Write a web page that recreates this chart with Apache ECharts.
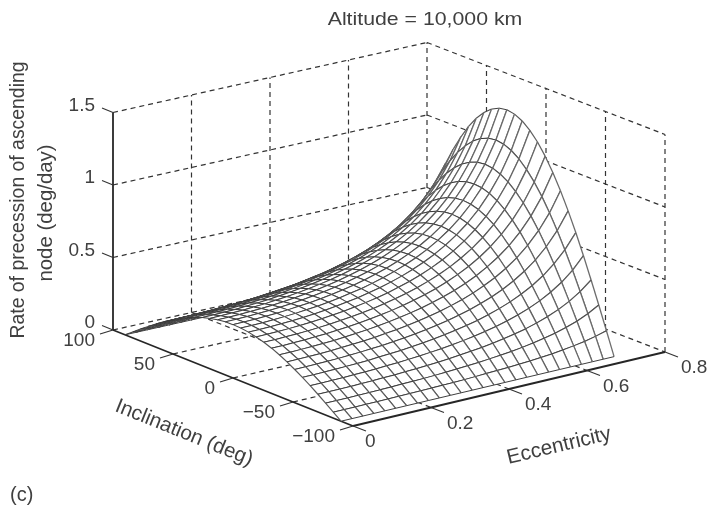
<!DOCTYPE html>
<html><head><meta charset="utf-8">
<style>html,body{margin:0;padding:0;background:#fff}#c{width:709px;height:510px}</style>
<script src="https://cdn.jsdelivr.net/npm/echarts@6/dist/echarts.min.js"></script>
</head><body><div id="c"></div>
<script>
// ---- chart text ----
const titleText = 'Altitude = 10,000 km';
const zTitleLine1 = 'Rate of precession of ascending';
const zTitleLine2 = 'node (deg/day)';
const iTitle = 'Inclination (deg)';
const eTitle = 'Eccentricity';
const panelTag = '(c)';
// ---- axis ticks ----
const eTicks = [0, 0.2, 0.4, 0.6, 0.8];
const eTickLabels = ['0', '0.2', '0.4', '0.6', '0.8'];
const iTicks = [100, 50, 0, -50, -100];
const iTickLabels = ['100', '50', '0', '\u221250', '\u2212100'];
const zTicks = [0, 0.5, 1, 1.5];
const zTickLabels = ['0', '0.5', '1', '1.5'];
// ---- surface grid: eccentricity columns, inclination rows ----
const eccentricity = [0,.028,.056,.084,.112,.14,.168,.196,.224,.252,.28,.308,.336,.364,.392,.42,.448,.476,.504,.532,.56,.588,.616,.644,.672,.7];
const inclination = [90,83.57,77.14,70.71,64.29,57.86,51.43,45,38.57,32.14,25.71,19.29,12.86,6.43,0,-6.43,-12.86,-19.29,-25.71,-32.14,-38.57,-45,-51.43,-57.86,-64.29,-70.71,-77.14,-83.57,-90];
// rate (deg/day) read along each inclination row; the surface is symmetric in inclination
const rate90 = [0,0,0,0,0,0,0,0,0,0,0,0,0,0,0,0,0,0,0,0,0,0,0,0,0,0];
const rate84 = [.041,.041,.041,.042,.042,.043,.044,.045,.046,.047,.049,.050,.052,.055,.058,.061,.065,.069,.074,.080,.087,.096,.107,.120,.137,.158];
const rate77 = [.082,.082,.082,.083,.084,.085,.087,.089,.091,.093,.096,.100,.104,.109,.114,.121,.128,.137,.147,.159,.174,.191,.213,.239,.272,.315];
const rate71 = [.122,.122,.122,.123,.125,.126,.129,.131,.135,.139,.143,.148,.154,.162,.170,.179,.190,.203,.218,.236,.258,.284,.316,.355,.404,.467];
const rate64 = [.160,.160,.161,.162,.164,.166,.169,.173,.177,.182,.188,.195,.203,.212,.223,.235,.250,.267,.287,.311,.339,.373,.415,.466,.531,.614];
const rate58 = [.196,.196,.197,.199,.201,.204,.207,.212,.217,.223,.231,.239,.249,.260,.273,.289,.306,.327,.352,.381,.416,.457,.508,.572,.651,.753];
const rate51 = [.229,.230,.231,.233,.235,.239,.243,.248,.254,.262,.270,.280,.292,.305,.320,.338,.359,.384,.412,.446,.487,.536,.596,.670,.763,.882];
const rate45 = [.260,.261,.262,.264,.267,.271,.276,.281,.288,.297,.306,.318,.331,.346,.363,.384,.407,.435,.468,.506,.552,.608,.676,.760,.865,1.000];
const rate39 = [.288,.288,.290,.292,.295,.299,.305,.311,.319,.328,.339,.351,.366,.382,.402,.424,.450,.481,.517,.560,.611,.672,.747,.840,.957,1.106];
const rate32 = [.312,.312,.314,.316,.320,.324,.330,.337,.345,.355,.367,.380,.396,.414,.435,.459,.488,.521,.560,.606,.661,.728,.809,.910,1.036,1.198];
const rate26 = [.332,.332,.334,.336,.340,.345,.351,.359,.368,.378,.390,.405,.421,.441,.463,.489,.519,.554,.596,.645,.704,.775,.861,.968,1.102,1.275];
const rate19 = [.347,.348,.350,.352,.356,.361,.368,.376,.385,.396,.409,.424,.441,.462,.485,.512,.544,.581,.624,.676,.737,.811,.902,1.014,1.155,1.335];
const rate13 = [.359,.359,.361,.364,.368,.373,.380,.388,.398,.409,.422,.438,.456,.477,.501,.529,.562,.600,.645,.698,.761,.838,.932,1.047,1.193,1.379];
const rate06 = [.366,.366,.368,.371,.375,.380,.387,.395,.405,.417,.431,.446,.465,.486,.511,.539,.572,.611,.657,.711,.776,.854,.950,1.068,1.216,1.406];
const rate00 = [.368,.369,.370,.373,.377,.383,.390,.398,.408,.420,.433,.449,.468,.489,.514,.543,.576,.615,.661,.716,.781,.860,.956,1.074,1.224,1.415];
const surface = [rate90,rate84,rate77,rate71,rate64,rate58,rate51,rate45,rate39,rate32,rate26,rate19,rate13,rate06,rate00,
                 rate06,rate13,rate19,rate26,rate32,rate39,rate45,rate51,rate58,rate64,rate71,rate77,rate84,rate90];

// ---- oblique 3D view, fixed by the floor corners of the plot box ----
const cornerA = [113,330], cornerB = [353,426], cornerC = [665,352], cornerD = [427,260];
const zScale = 145;
function project(e, inc, z) {
  const u = e / 0.8, v = (100 - inc) / 200;
  const x = (1-u)*(1-v)*cornerA[0] + (1-u)*v*cornerB[0] + u*v*cornerC[0] + u*(1-v)*cornerD[0];
  const y = (1-u)*(1-v)*cornerA[1] + (1-u)*v*cornerB[1] + u*v*cornerC[1] + u*(1-v)*cornerD[1];
  return [x, y - z*zScale];
}
const zTop = zTicks[zTicks.length-1];
function seg(a, b) { return [a[0], a[1], b[0], b[1]]; }

// dashed box grid
const gridSegs = [];
eTicks.forEach(e => {
  if (e > 0 && e < 0.8) {
    gridSegs.push(seg(project(e,100,0), project(e,100,zTop)));
    gridSegs.push(seg(project(e,100,0), project(e,-100,0)));
  }
});
iTicks.forEach(i => {
  gridSegs.push(seg(project(0.8,i,0), project(0.8,i,zTop)));
  if (i < 100 && i > -100) gridSegs.push(seg(project(0,i,0), project(0.8,i,0)));
});
zTicks.forEach(z => {
  gridSegs.push(seg(project(0,100,z), project(0.8,100,z)));
  gridSegs.push(seg(project(0.8,100,z), project(0.8,-100,z)));
});
// solid axes and ticks
const axisSegs = [
  seg(project(0,100,0), project(0,100,zTop)),
  seg(project(0,100,0), project(0,-100,0)),
  seg(project(0,-100,0), project(0.8,-100,0))
];
const tickSegs = [];
zTicks.forEach(z => { const p = project(0,100,z); tickSegs.push([p[0],p[1],p[0]-11,p[1]-4.5]); });
iTicks.forEach(i => { const p = project(0,i,0); tickSegs.push([p[0],p[1],p[0]-13,p[1]+4]); });
eTicks.forEach(e => { const p = project(e,-100,0); tickSegs.push([p[0],p[1],p[0]+13,p[1]+5]); });

// mesh cells back to front
const cells = [];
for (let r = 0; r < inclination.length-1; r++)
  for (let c = eccentricity.length-2; c >= 0; c--) cells.push([r, c]);

function lineSeries(name, segs, style) {
  return {
    type:'custom', name, coordinateSystem:'cartesian2d', silent:true, clip:false,
    data:segs, encode:{x:[0,2],y:[1,3]},
    renderItem:(p, api) => {
      const a = api.coord([api.value(0),api.value(1)]), b = api.coord([api.value(2),api.value(3)]);
      return {type:'line', shape:{x1:a[0],y1:a[1],x2:b[0],y2:b[1]}, style};
    }
  };
}
// steep mesh strands print lighter and broader than flat ones in the scan
function meshEdge(a, b) {
  const dx = Math.abs(a[0]-b[0]), dy = Math.abs(a[1]-b[1]);
  const t = dy / (dx + dy + 1e-6);
  const g = Math.round(44 + t*84);
  return {type:'line', shape:{x1:a[0],y1:a[1],x2:b[0],y2:b[1]},
    style:{stroke:'rgb('+g+','+g+','+g+')', lineWidth:0.9 + 0.5*t}};
}
const font = s => s + 'px "Liberation Sans", Arial, sans-serif';
const ink = '#404040';
function txt(x, y, text, size, align, rot, sx) {
  return {type:'text', x, y, rotation:rot||0, scaleX:sx||1, silent:true,
    style:{text, font:font(size), fill:ink, align:align||'center', verticalAlign:'middle'}};
}
const labels = [];
zTicks.forEach((z,k) => { const p = project(0,100,z); labels.push(txt(95, p[1]-7, zTickLabels[k], 19, 'right')); });
iTicks.forEach((v,k) => { const p = project(0,v,0); labels.push(txt(p[0]-18, p[1]+11, iTickLabels[k], 19, 'right')); });
eTicks.forEach((v,k) => { const p = project(v,-100,0); labels.push(txt(p[0]+(v===0?12:16), p[1]+16, eTickLabels[k], 19, 'left')); });
labels.push(txt(425, 20, titleText, 19, 'center', 0, 1.12));
labels.push(txt(19, 200, zTitleLine1, 19.4, 'center', Math.PI/2));
labels.push(txt(46, 213, zTitleLine2, 20.4, 'center', Math.PI/2));
labels.push(txt(184, 433, iTitle, 20.6, 'center', -22*Math.PI/180));
labels.push(txt(559, 446, eTitle, 20.8, 'center', 13.4*Math.PI/180));
labels.push(txt(10, 495, panelTag, 20, 'left'));

const chart = echarts.init(document.getElementById('c'), null, {renderer:'canvas'});
chart.setOption({
  animation:false,
  backgroundColor:'#fff',
  grid:{left:0,right:0,top:0,bottom:0},
  xAxis:{type:'value',min:0,max:709,show:false},
  yAxis:{type:'value',min:0,max:510,inverse:true,show:false},
  graphic:labels,
  series:[
    lineSeries('grid', gridSegs, {stroke:'#333',lineWidth:1.2,lineDash:[5,4],fill:null}),
    lineSeries('axes', axisSegs, {stroke:'#262626',lineWidth:1.8}),
    lineSeries('ticks', tickSegs, {stroke:'#333',lineWidth:1.1}),
    {
      type:'custom', name:'surface', coordinateSystem:'cartesian2d', silent:true, clip:false,
      data:cells, encode:{x:0,y:1},
      renderItem:(p, api) => {
        const r = api.value(0), c = api.value(1);
        const pt = (rr,cc) => api.coord(project(eccentricity[cc], inclination[rr], surface[rr][cc]));
        const a = pt(r,c), b = pt(r,c+1), d = pt(r+1,c+1), f = pt(r+1,c);
        return {type:'group', children:[
          {type:'polygon', shape:{points:[a,b,d,f]}, style:{fill:'#fff',stroke:null}},
          meshEdge(a,f), meshEdge(b,d), meshEdge(a,b), meshEdge(f,d)
        ]};
      }
    }
  ]
});
</script></body></html>
